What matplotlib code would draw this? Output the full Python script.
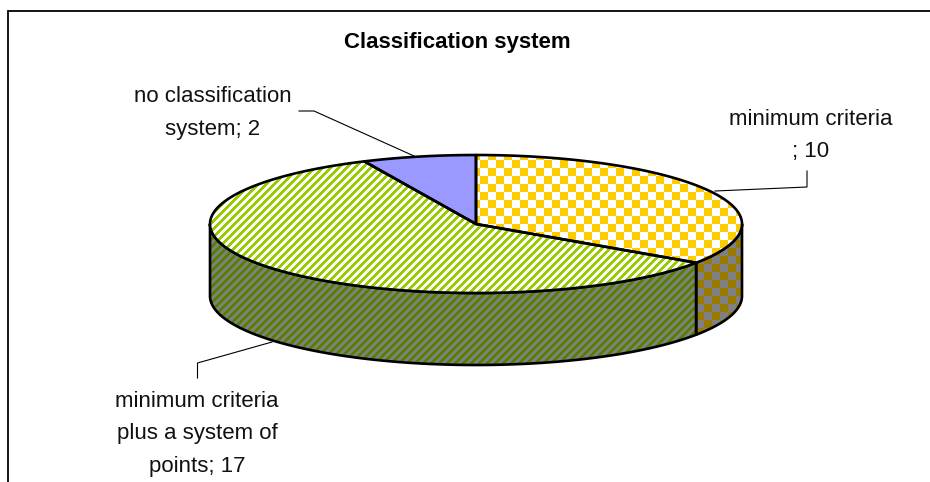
import numpy as np
import matplotlib
matplotlib.use("Agg")
import matplotlib.pyplot as plt
from matplotlib.patches import Polygon

plt.rcParams['font.family'] = ['Liberation Sans', 'DejaVu Sans']

categories = ["minimum criteria\n; 10", "minimum criteria\nplus a system of\npoints; 17", "no classification\nsystem; 2"]
values = [10, 17, 2]
title = "Classification system"

W, H = 930, 482
CX, CY, RX, RY, DEPTH = 476.0, 224.0, 266.0, 69.0, 72.0

fig = plt.figure(figsize=(W/100, H/100), dpi=100, facecolor="white")
ax = fig.add_axes([0, 0, 1, 1])
wedges, _ = ax.pie(values, startangle=90, counterclock=False, radius=1.0, center=(0, 0),
                   wedgeprops=dict(facecolor="none", edgecolor="none"), frame=True)
ax.set_aspect("auto")
xlim = (-CX/RX, (W-CX)/RX)
ylim = ((CY-H)/RY, CY/RY)
ax.set_xlim(*xlim); ax.set_ylim(*ylim)
ax.axis("off")

def px(x, y):
    return (x-CX)/RX, (CY-y)/RY

yy, xx = np.mgrid[0:H, 0:W]
checker = ((xx//8 + yy//8) % 2 == 0)
stripes = (((xx + yy)//2) % 4 < 2)

def rgb(h):
    return np.array(matplotlib.colors.to_rgb(h))

def tex(mask, c1, c2):
    return np.where(mask[..., None], rgb(c1), rgb(c2))

def fill(patch_path_verts, img, lw=1.9, z=2):
    poly = Polygon(patch_path_verts, closed=True, facecolor="none", edgecolor="black",
                   linewidth=lw, joinstyle="round", zorder=z+0.5)
    ax.add_patch(poly)
    im = ax.imshow(img, extent=(xlim[0], xlim[1], ylim[0], ylim[1]), origin="upper",
                   aspect="auto", interpolation="nearest", zorder=z)
    im.set_clip_path(poly)

# slice angles, clockwise from the top, in degrees
total = sum(values)
edges = np.cumsum([0] + values) / total * 360.0

def rim(a0, a1):
    t = np.radians(np.linspace(a0, a1, 200))
    return np.sin(t), np.cos(t)

def top_face(a0, a1):
    x, y = rim(a0, a1)
    return np.column_stack([np.r_[0, x], np.r_[0, y]])

def wall(a0, a1):
    x, y = rim(a0, a1)
    d = DEPTH/RY
    return np.column_stack([np.r_[x, x[::-1]], np.r_[y, y[::-1]-d]])

face_tex = [tex(checker, "#FFCC00", "#FFFFFF"), tex(stripes, "#99CC00", "#FFFFFF"), np.tile(rgb("#9999FF"), (H, W, 1))]
wall_tex = [tex(checker, "#997A00", "#808080"), tex(stripes, "#558000", "#808080")]

# visible front walls
fill(wall(90, edges[1]), wall_tex[0], z=2)
fill(wall(edges[1], 270), wall_tex[1], z=2)
# top faces
for i in range(3):
    fill(top_face(edges[i], edges[i+1]), face_tex[i], z=3)

def leader(pts):
    xs, ys = zip(*[px(*p) for p in pts])
    ax.plot(xs, ys, color="black", lw=0.8, zorder=5, solid_joinstyle="miter", scalex=False, scaley=False)

leader([(715, 191), (807, 187), (807, 171)])
leader([(197.5, 378), (197.5, 363), (272, 342)])
leader([(299, 111), (314, 111), (414, 156)])

def label(x, y0, text):
    for i, line in enumerate(text.split("\n")):
        lx, ly = px(x, y0 + 32.5*i)
        ax.text(lx, ly, line, ha="center", va="center", fontsize=16, color="#111111", zorder=6)

label(811, 119.5, categories[0])
label(197, 401.5, categories[1])
label(212.5, 96.5, categories[2])
tx, ty = px(457, 42.5)
ax.text(tx, ty, title, ha="center", va="center", fontsize=16, fontweight="bold", color="black", zorder=6)

# chart frame: only the top and left edges fall within the picture
xs, ys = zip(*[px(*p) for p in [(8, H), (8, 11), (W, 11)]])
ax.plot(xs, ys, color="black", lw=1.3, zorder=6, solid_joinstyle="miter", scalex=False, scaley=False)

fig.savefig("out.png", dpi=100, facecolor="white")
